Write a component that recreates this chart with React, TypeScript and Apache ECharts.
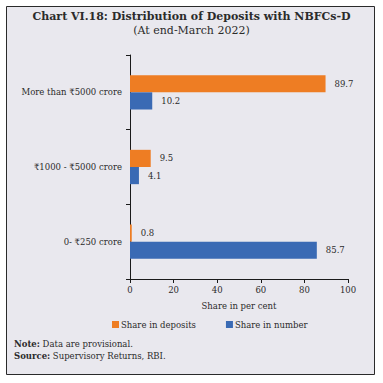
import React, { useEffect, useRef } from "react";
import * as echarts from "echarts";

const categories = ["0- ₹250 crore", "₹1000 - ₹5000 crore", "More than ₹5000 crore"];
const shareInDeposits = [0.8, 9.5, 89.7];
const shareInNumber = [85.7, 4.1, 10.2];
const xTicks = { min: 0, max: 100, interval: 20 };

const FONT = "DejaVu Serif";
const ORANGE = "#EE7D23";
const BLUE = "#3A6AB4";

export default function App() {
  const ref = useRef<HTMLDivElement>(null);
  useEffect(() => {
    const chart = echarts.init(ref.current!, null, { renderer: "svg" });
    const label = {
      show: true,
      position: "right",
      distance: 9,
      fontFamily: FONT,
      fontSize: 8.5,
      color: "#2b2b2b",
    };
    chart.setOption({
      animation: false,
      backgroundColor: "#ffffff",
      textStyle: { fontFamily: FONT },
      graphic: [
        {
          type: "rect",
          z: -10,
          shape: { x: 6.5, y: 6.5, width: 368, height: 368 },
          style: { fill: "#E9E8EE", stroke: "#2a2a2a", lineWidth: 1 },
        },
        {
          type: "text",
          left: "center",
          top: 11,
          style: {
            text: "Chart VI.18: Distribution of Deposits with NBFCs-D",
            font: `bold 11px "${FONT}"`,
            fill: "#2b2b2b",
          },
        },
        {
          type: "text",
          left: "center",
          top: 25,
          style: {
            text: "(At end-March 2022)",
            font: `11px "${FONT}"`,
            fill: "#2b2b2b",
          },
        },
        {
          type: "text",
          left: 14,
          top: 338,
          style: {
            text: "{b|Note:} Data are provisional.\n{b|Source:} Supervisory Returns, RBI.",
            font: `8.5px "${FONT}"`,
            fill: "#2b2b2b",
            lineHeight: 12,
            rich: {
              b: { fontWeight: "bold", fontSize: 8.5, fontFamily: FONT, fill: "#2b2b2b" },
            },
          },
        },
      ],
      legend: {
        data: ["Share in deposits", "Share in number"],
        left: 107,
        top: 315,
        itemWidth: 7,
        itemHeight: 7,
        itemGap: 30,
        icon: "rect",
        textStyle: { fontFamily: FONT, fontSize: 8.5, color: "#2b2b2b", padding: [0, 0, 0, -3] },
      },
      grid: { left: 130, right: 35, top: 55, bottom: 104, containLabel: false },
      xAxis: {
        type: "value",
        min: xTicks.min,
        max: xTicks.max,
        interval: xTicks.interval,
        name: "Share in per cent",
        nameLocation: "middle",
        nameGap: 22,
        nameTextStyle: { fontFamily: FONT, fontSize: 8.5, color: "#2b2b2b" },
        axisLine: { show: true, lineStyle: { color: "#1a1a1a", width: 1 } },
        axisTick: { show: true, length: 4, lineStyle: { color: "#1a1a1a" } },
        axisLabel: { fontFamily: FONT, fontSize: 8.5, color: "#2b2b2b", margin: 6 },
        splitLine: { show: false },
      },
      yAxis: {
        type: "category",
        data: categories,
        axisLine: { show: true, lineStyle: { color: "#1a1a1a", width: 1 } },
        axisTick: { show: true, length: 4, lineStyle: { color: "#1a1a1a" } },
        axisLabel: { fontFamily: FONT, fontSize: 8.5, color: "#2b2b2b", margin: 8 },
      },
      series: [
        {
          name: "Share in deposits",
          type: "bar",
          data: shareInDeposits,
          itemStyle: { color: ORANGE },
          barGap: "0%",
          barCategoryGap: "54%",
          label,
        },
        {
          name: "Share in number",
          type: "bar",
          data: shareInNumber,
          itemStyle: { color: BLUE },
          barGap: "0%",
          barCategoryGap: "54%",
          label,
        },
      ],
    });
    return () => chart.dispose();
  }, []);
  return (
    <div
      ref={ref}
      style={{ position: "fixed", left: 0, top: 0, width: 383, height: 383 }}
    />
  );
}
